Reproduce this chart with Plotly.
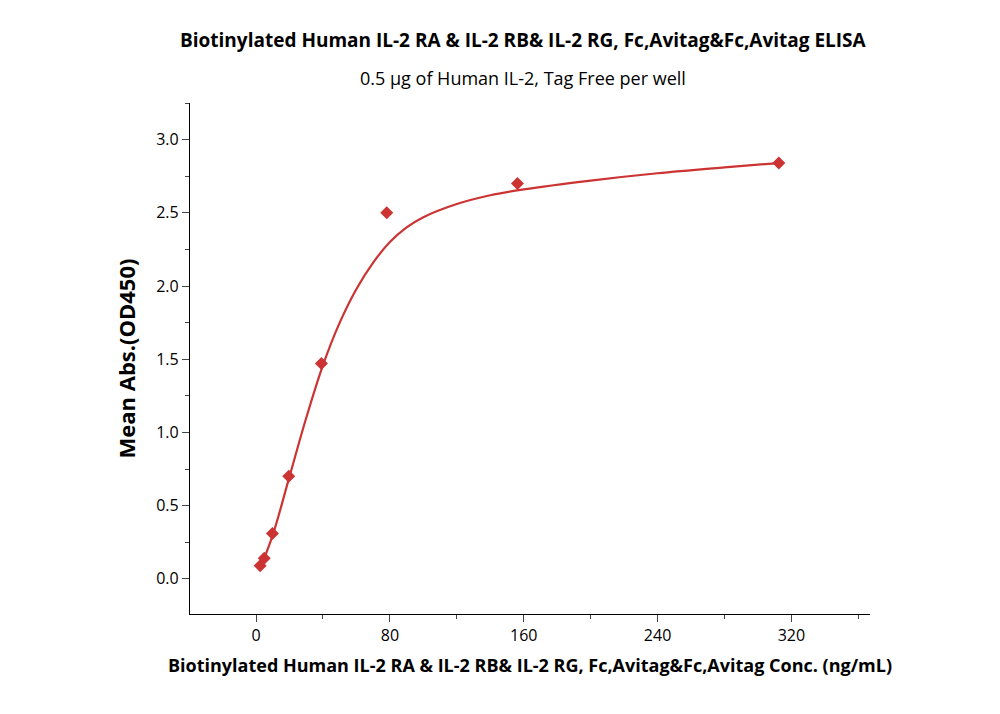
import plotly.graph_objects as go

conc = [2.44, 4.88, 9.77, 19.53, 39.06, 78.13, 156.25, 312.5]
od = [0.09, 0.14, 0.31, 0.70, 1.47, 2.50, 2.70, 2.84]
fit_x = [2.44, 10, 20, 30, 40, 50, 60, 70, 80, 90, 100, 120, 140, 160, 200, 240, 280, 312.5]
fit_y = [0.07, 0.30, 0.70, 1.10, 1.46, 1.75, 1.98, 2.16, 2.30, 2.40, 2.47, 2.56, 2.62, 2.66, 2.72, 2.77, 2.81, 2.84]
red = "#cc3333"

fig = go.Figure()
fig.add_trace(go.Scatter(x=fit_x, y=fit_y, mode="lines", line=dict(color=red, width=2.2, shape="spline"), hoverinfo="skip"))
fig.add_trace(go.Scatter(x=conc, y=od, mode="markers", marker=dict(symbol="diamond", size=10, color=red)))

xc = (515 - 182) / 680
fig.update_layout(
    width=1000, height=714, showlegend=False,
    plot_bgcolor="white", paper_bgcolor="white",
    margin=dict(l=182, r=138, t=95, b=108),
    font=dict(family="Open Sans", color="black"),
    xaxis=dict(range=[-39.5, 367], tickvals=[0, 80, 160, 240, 320], showgrid=False, zeroline=False,
               showline=True, linecolor="black", linewidth=1.3, ticks="outside", ticklen=7,
               minor=dict(tickvals=[-40, 40, 120, 200, 280, 360], ticks="outside", ticklen=4),
               tickfont=dict(size=16),
               title=dict(text="<b>Biotinylated Human IL-2 RA & IL-2 RB& IL-2 RG, Fc,Avitag&Fc,Avitag Conc. (ng/mL)</b>", font=dict(size=18), standoff=14)),
    yaxis=dict(range=[-0.24, 3.25], tickvals=[0, 0.5, 1, 1.5, 2, 2.5, 3], tickformat=".1f", showgrid=False, zeroline=False,
               showline=True, linecolor="black", linewidth=1.3, ticks="outside", ticklen=7,
               minor=dict(dtick=0.25, tick0=0.25, ticks="outside", ticklen=4),
               tickfont=dict(size=16),
               title=dict(text="<b>Mean Abs.(OD450)</b>", font=dict(size=22), standoff=14)),
    annotations=[
        dict(text="<b>Biotinylated Human IL-2 RA & IL-2 RB& IL-2 RG, Fc,Avitag&Fc,Avitag ELISA</b>", x=xc, y=1, yshift=95 - 32,
             xref="paper", yref="paper", yanchor="middle", showarrow=False, font=dict(size=19)),
        dict(text="0.5 μg of Human IL-2, Tag Free per well", x=xc, y=1, yshift=95 - 70,
             xref="paper", yref="paper", yanchor="middle", showarrow=False, font=dict(size=18)),
    ],
)
fig.write_html("out.html")
